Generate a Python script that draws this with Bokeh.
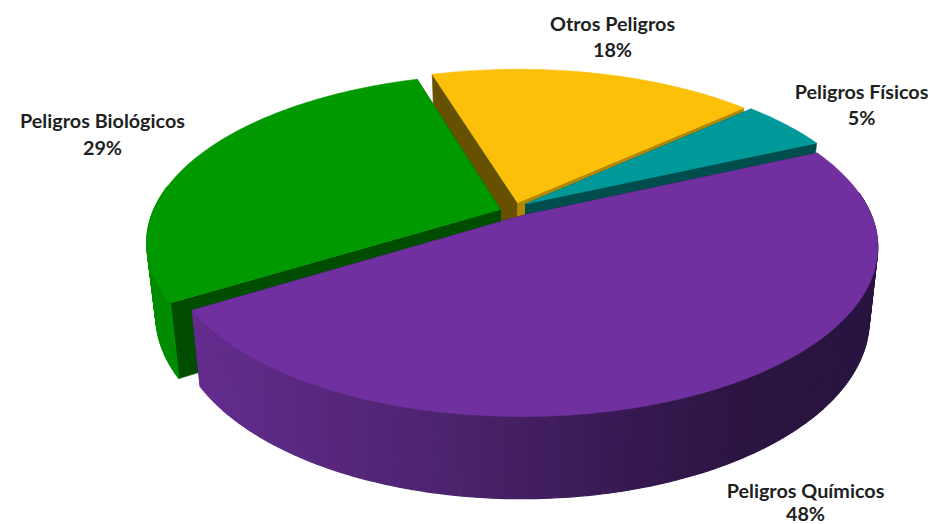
import math
from bokeh.core.properties import value
from bokeh.embed import file_html
from bokeh.models import Range1d
from bokeh.plotting import figure
from bokeh.resources import INLINE

# Share of each hazard, listed clockwise from the first slice
categories = ["Peligros Químicos", "Peligros Biológicos", "Otros Peligros", "Peligros Físicos"]
shares = [48, 29, 18, 5]

top_colors = ["#7030A0", "#009900", "#FCC008", "#009999"]
leading_face_colors = ["#3A1A55", "#004D00", "#675000", "#006060"]
trailing_face_colors = ["#3A1A55", "#004D00", "#B38800", "#004D4D"]
rim_colors = [None, "#008C00", "#A07A00", "#006666"]

# Centre of each label: name line and percentage line
label_x = [805, 102, 612, 861]
label_name_y = [489, 119, 22, 90]
label_pct_y = [512, 146, 48, 116]

# Pie geometry, in page pixels
CX, CY = 524, 215
A, B = 349, 163
PERSP = 0.189
DEPTH_SCALE = 0.976
DEPTH = 70.6
START_DEG = 24.4
OFFSETS = [(-0.006, 0.0), (-0.0695, 0.037), (-0.0204, 0.08), (0.003, 0.072)]
DRAW_ORDER = [2, 3, 1, 0]
ARC_STEP_DEG = 1.0
BACK_WALL_SIN = 0.15


def project(x, y, bottom=False):
    """Perspective view of a point on the pie's top (or bottom) disc."""
    w = 1 + PERSP * y
    sx = A * x / w
    sy = -B * y / w
    if bottom:
        sx *= DEPTH_SCALE
        sy = sy * DEPTH_SCALE + DEPTH / w
    return CX + sx, CY + sy


def mix(c0, c1, t):
    t = max(0.0, min(1.0, t))
    return tuple(round(a + (b - a) * t) for a, b in zip(c0, c1))


def to_hex(c):
    return "#%02X%02X%02X" % c


# Shading along the purple slice's wall, from its left end to its right end
WALL_STOPS = [(190, (0x64, 0x2C, 0x8E)), (430, (0x4E, 0x24, 0x70)),
              (620, (0x38, 0x19, 0x52)), (760, (0x2A, 0x14, 0x40)), (880, (0x2A, 0x14, 0x40))]


def wall_color(x):
    for (x0, c0), (x1, c1) in zip(WALL_STOPS, WALL_STOPS[1:]):
        if x <= x1:
            return to_hex(mix(c0, c1, (x - x0) / (x1 - x0)))
    return to_hex(WALL_STOPS[-1][1])


p = figure(width=933, height=524, output_backend="svg", toolbar_location=None,
           x_range=Range1d(0, 933), y_range=Range1d(524, 0), min_border=0)
p.axis.visible = False
p.grid.visible = False
p.outline_line_color = None
p.background_fill_color = "white"
p.border_fill_color = "white"

total = sum(shares)
edges = [START_DEG]
for s in shares:
    edges.append(edges[-1] - 360.0 * s / total)


def draw_patch(xs, ys, color, width=0.6):
    p.patch(xs, ys, fill_color=color, line_color=color, line_width=width)


for i in DRAW_ORDER:
    a0, a1 = edges[i], edges[i + 1]
    ox, oy = OFFSETS[i]
    n = max(2, int((a0 - a1) / ARC_STEP_DEG))
    angles = [a0 + (a1 - a0) * k / n for k in range(n + 1)]
    rim = [(ox + math.cos(math.radians(t)), oy + math.sin(math.radians(t))) for t in angles]
    top = [project(x, y) for x, y in rim]
    low = [project(x, y, True) for x, y in rim]
    apex_top = project(ox, oy)
    apex_low = project(ox, oy, True)

    # Cut faces running from the slice's tip to its two rim corners
    draw_patch([apex_top[0], top[0][0], low[0][0], apex_low[0]],
               [apex_top[1], top[0][1], low[0][1], apex_low[1]], leading_face_colors[i])
    draw_patch([apex_top[0], top[-1][0], low[-1][0], apex_low[0]],
               [apex_top[1], top[-1][1], low[-1][1], apex_low[1]], trailing_face_colors[i])

    # Curved outer wall, as thin quads so the shading can vary along it;
    # the far side of the pie faces away from the viewer and is skipped
    for k in range(n):
        if math.sin(math.radians((angles[k] + angles[k + 1]) / 2)) > BACK_WALL_SIN:
            continue
        color = rim_colors[i]
        if color is None:
            color = wall_color((top[k][0] + top[k + 1][0]) / 2)
        draw_patch([top[k][0], top[k + 1][0], low[k + 1][0], low[k][0]],
                   [top[k][1], top[k + 1][1], low[k + 1][1], low[k][1]], color, 1.2)

    # Top surface
    draw_patch([apex_top[0]] + [q[0] for q in top], [apex_top[1]] + [q[1] for q in top], top_colors[i])

percents = [f"{s}%" for s in shares]
for ys, texts in ((label_name_y, categories), (label_pct_y, percents)):
    p.text(x=label_x, y=ys, text=texts, text_font=value("Lato"), text_font_size="19.8px",
           text_font_style="bold", text_color="#1F1F1F", text_align="center", text_baseline="middle")

open("out.html", "w").write(file_html(p, INLINE))
